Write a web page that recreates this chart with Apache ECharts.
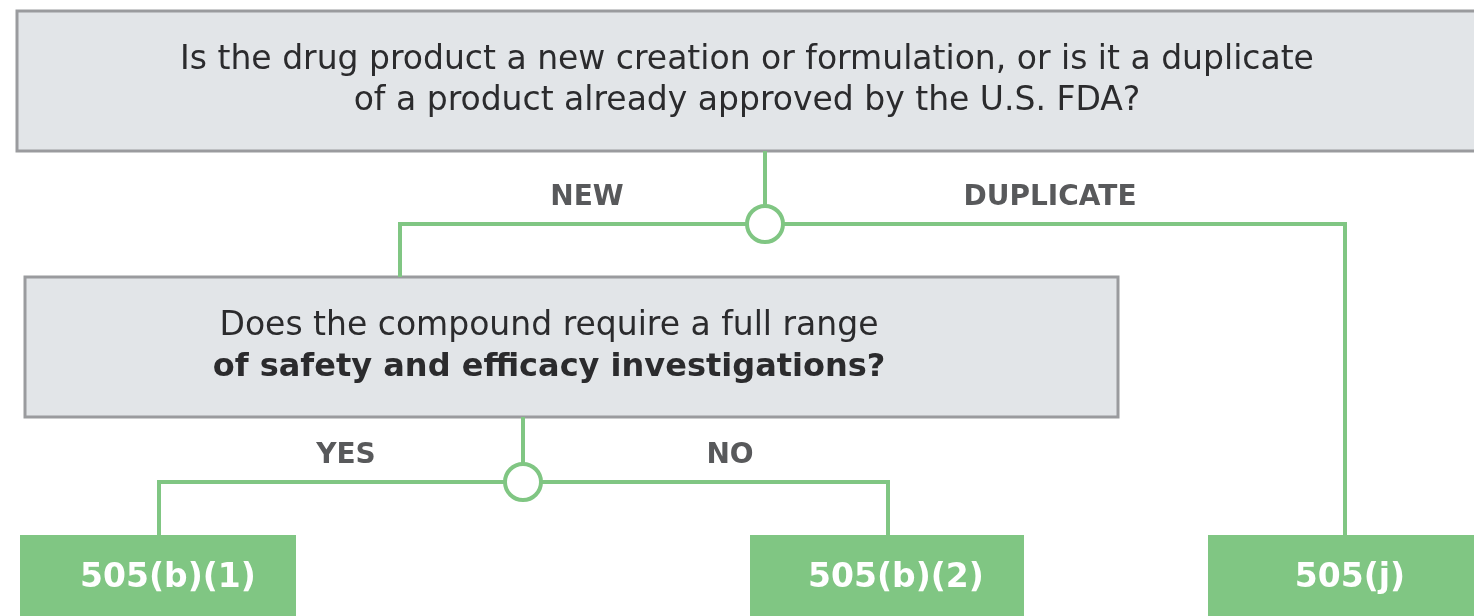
<!DOCTYPE html>
<html>
<head>
<meta charset="utf-8">
<script src="https://cdn.jsdelivr.net/npm/echarts@6/dist/echarts.min.js"></script>
<style>
html, body { margin: 0; padding: 0; background: #fff; }
#main { width: 1474px; height: 616px; }
</style>
</head>
<body>
<div id="main"></div>
<script>
// chart content
var questionTop = ['Is the drug product a new creation or formulation, or is it a duplicate',
                   'of a product already approved by the U.S. FDA?'];
var questionSub = ['Does the compound require a full range',
                   'of safety and efficacy investigations?'];
var branchLabels = ['NEW', 'DUPLICATE', 'YES', 'NO'];
var outcomes = ['505(b)(1)', '505(b)(2)', '505(j)'];

// layout, in axis units (same scale as the page pixels)
var qBoxes = [[17, 11, 1480, 151], [25, 277, 1118, 417]];
var qLines = [[60, 101], [326, 368]];
var qCenters = [747, 549];
var splits = [
    // stem x, stem top y, node y, left x, right x, left bottom y, right bottom y
    [765, 151, 224, 400, 1345, 277, 535],
    [523, 417, 482, 159, 888, 535, 535]
];
var labelPos = [[587, 198], [1050, 198], [346, 456], [730, 456]];
var outBoxes = [[20, 535, 296, 620], [750, 535, 1024, 620], [1208, 535, 1480, 620]];
var outText = [[168, 578], [896, 578], [1350, 578]];

var GREEN = '#80c683';
var FONT = '"DejaVu Sans", sans-serif';

function rectFrom(api, b) {
    var p1 = api.coord([b[0], b[1]]);
    var p2 = api.coord([b[2], b[3]]);
    return { x: p1[0], y: p1[1], width: p2[0] - p1[0], height: p2[1] - p1[1] };
}

var chart = echarts.init(document.getElementById('main'));
chart.setOption({
    animation: false,
    grid: { left: 0, right: 0, top: 0, bottom: 0 },
    xAxis: { type: 'value', min: 0, max: 1474, show: false },
    yAxis: { type: 'value', min: 0, max: 616, inverse: true, show: false },
    series: [
        {
            // question boxes
            type: 'custom',
            data: qBoxes.map(function (b, i) { return [i]; }),
            renderItem: function (params, api) {
                var i = api.value(0);
                var lines = i === 0 ? questionTop : questionSub;
                var cx = api.coord([qCenters[i], 0])[0];
                var kids = [{
                    type: 'rect',
                    shape: rectFrom(api, qBoxes[i]),
                    style: { fill: '#e2e5e8', stroke: '#9a9b9e', lineWidth: 3 }
                }];
                lines.forEach(function (t, j) {
                    var bold = (i === 1 && j === 1);
                    kids.push({
                        type: 'text',
                        style: {
                            text: t, x: cx, y: api.coord([0, qLines[i][j]])[1],
                            align: 'center', verticalAlign: 'middle',
                            fill: '#2b2b2d',
                            font: bold ? 'bold 32px ' + FONT : '33px ' + FONT
                        }
                    });
                });
                return { type: 'group', children: kids };
            }
        },
        {
            // connectors with split nodes
            type: 'custom',
            data: splits.map(function (s, i) { return [i]; }),
            renderItem: function (params, api) {
                var s = splits[api.value(0)];
                var stemTop = api.coord([s[0], s[1]]);
                var node = api.coord([s[0], s[2]]);
                var left = api.coord([s[3], s[2]]);
                var right = api.coord([s[4], s[2]]);
                var lb = api.coord([s[3], s[5]]);
                var rb = api.coord([s[4], s[6]]);
                var ls = { stroke: GREEN, lineWidth: 4, fill: null };
                return {
                    type: 'group',
                    children: [
                        { type: 'polyline', shape: { points: [stemTop, node] }, style: ls },
                        { type: 'polyline', shape: { points: [lb, left, right, rb] }, style: ls },
                        { type: 'circle', shape: { cx: node[0], cy: node[1], r: 18 },
                          style: { fill: '#fff', stroke: GREEN, lineWidth: 4 } }
                    ]
                };
            }
        },
        {
            // branch labels
            type: 'custom',
            data: branchLabels.map(function (t, i) { return [i]; }),
            renderItem: function (params, api) {
                var i = api.value(0);
                var p = api.coord(labelPos[i]);
                return {
                    type: 'text',
                    style: {
                        text: branchLabels[i], x: p[0], y: p[1],
                        align: 'center', verticalAlign: 'middle',
                        fill: '#58595b', font: 'bold 28px ' + FONT
                    }
                };
            }
        },
        {
            // outcome boxes
            type: 'custom',
            data: outcomes.map(function (t, i) { return [i]; }),
            renderItem: function (params, api) {
                var i = api.value(0);
                var p = api.coord(outText[i]);
                return {
                    type: 'group',
                    children: [
                        { type: 'rect', shape: rectFrom(api, outBoxes[i]), style: { fill: GREEN } },
                        { type: 'text', style: {
                            text: outcomes[i], x: p[0], y: p[1],
                            align: 'center', verticalAlign: 'middle',
                            fill: '#fff', font: 'bold 33px ' + FONT
                        } }
                    ]
                };
            }
        }
    ]
});
</script>
</body>
</html>
